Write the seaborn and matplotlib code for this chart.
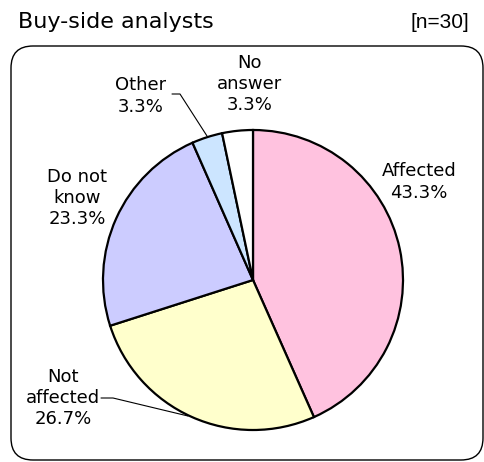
import numpy as np
import pandas as pd
import seaborn as sns
import matplotlib
matplotlib.use("Agg")
import matplotlib.pyplot as plt
from matplotlib.patches import FancyBboxPatch

# data (clockwise from 12 o'clock)
categories = ["Affected", "Not affected", "Do not know", "Other", "No answer"]
label_text = ["Affected", "Not\naffected", "Do not\nknow", "Other", "No\nanswer"]
shares = [43.3, 26.7, 23.3, 3.3, 3.3]
colors = ["#FFC2DF", "#FFFFCC", "#CCCCFF", "#CCE5FF", "#FFFFFF"]

sns.set_theme(style="white")
plt.rcParams["font.family"] = ["DejaVu Sans"]
plt.rcParams["text.color"] = "black"

H = 462
fig = plt.figure(figsize=(4.85, 4.62), dpi=100)
ax = fig.add_axes([0, 0, 1, 1])

cx, cy, r = 253, H - 280, 150
ax.pie(shares, colors=colors, startangle=90, counterclock=False,
       center=(cx, cy), radius=r,
       wedgeprops=dict(edgecolor="black", linewidth=1.6))

# frame around chart
box = FancyBboxPatch((11, H - 460), 472, 414,
                     boxstyle="round,pad=0,rounding_size=22",
                     fill=False, edgecolor="black", linewidth=1.0)
ax.add_patch(box)

ax.text(18, H - 22, "Buy-side analysts", fontsize=16, ha="left", va="center")
ax.text(469, H - 22, "[n=30]", fontsize=15, ha="right", va="center",
        family=["Liberation Sans", "DejaVu Sans"])

# label positions (pixel coords of the text centre)
label_pos = {
    "Affected": (419, 182),
    "Not affected": (63, 398),
    "Do not know": (77, 198),
    "Other": (141, 96),
    "No answer": (250, 84),
}
for cat, txt, v in zip(categories, label_text, shares):
    x, y = label_pos[cat]
    ax.text(x, H - y, f"{txt}\n{v:.1f}%", fontsize=13, ha="center",
            va="center", linespacing=1.25)

# leader lines
ax.plot([101, 113, 188], [H - 398, H - 398, H - 416], color="black", lw=0.8)
ax.plot([172, 180, 207], [H - 94, H - 94, H - 136], color="black", lw=0.8)

ax.set_xlim(0, 485)
ax.set_ylim(0, H)
ax.set_aspect("auto")
ax.axis("off")

fig.savefig("out.png", dpi=100)
